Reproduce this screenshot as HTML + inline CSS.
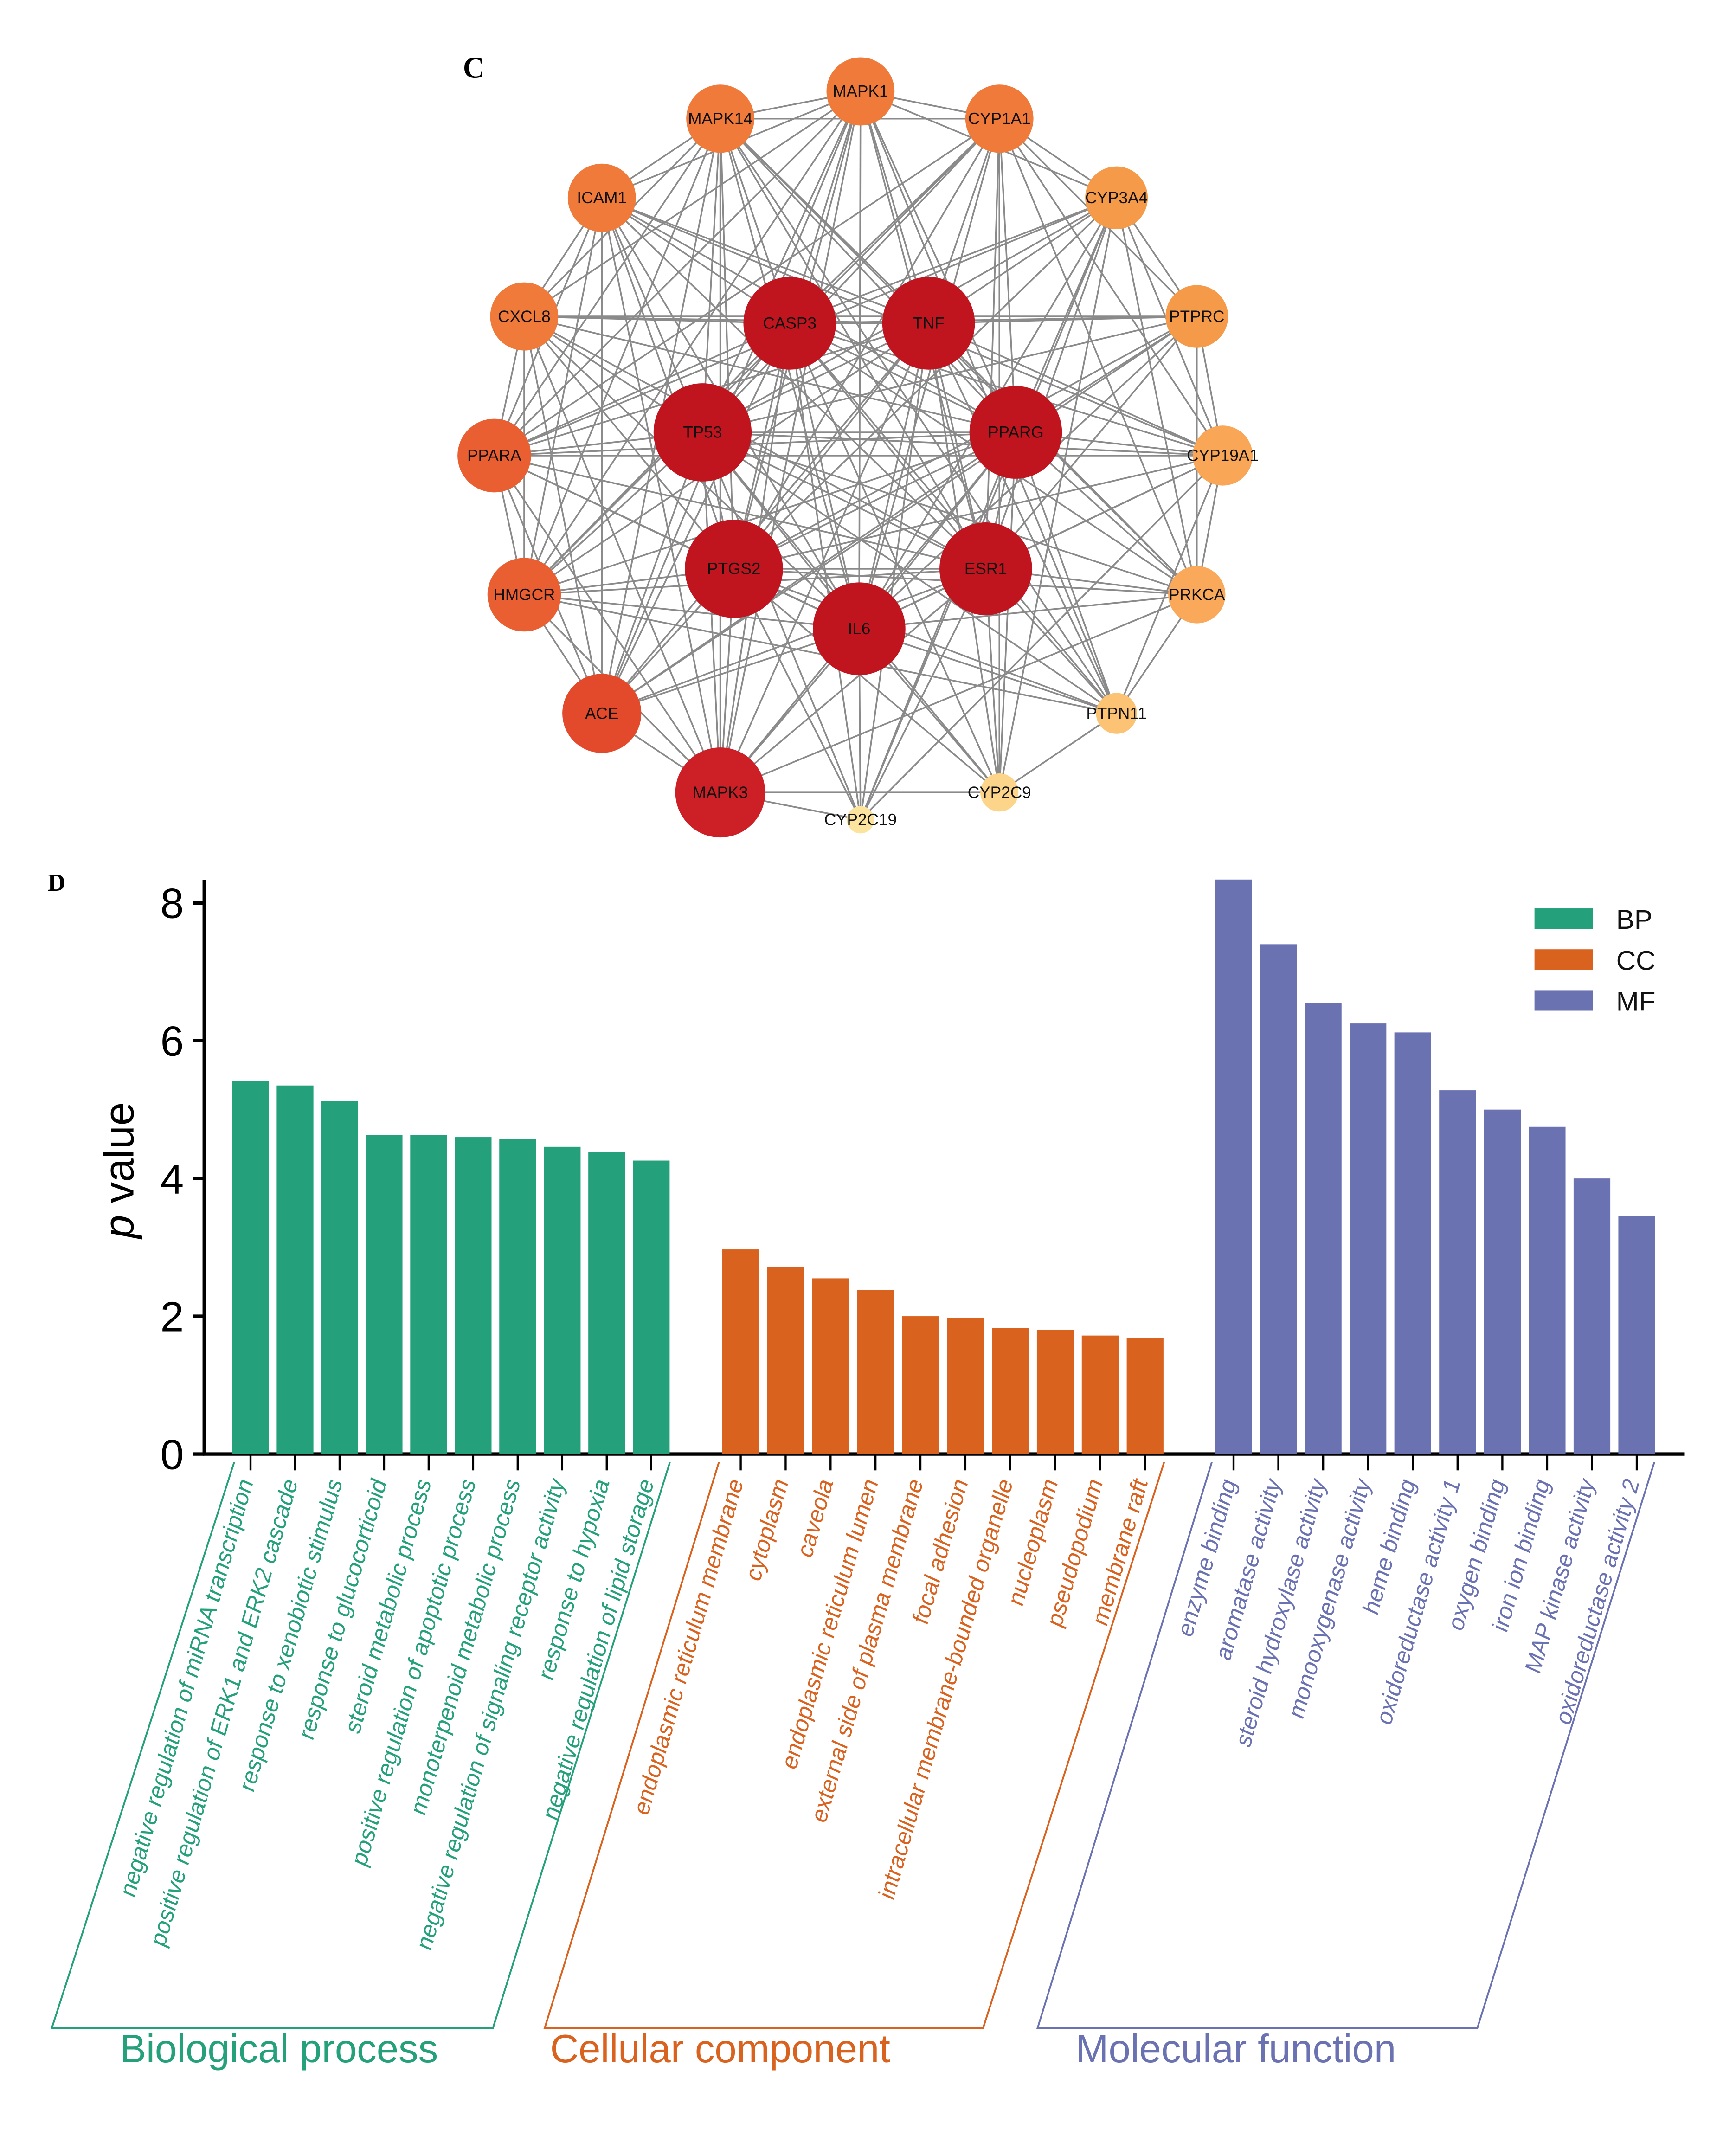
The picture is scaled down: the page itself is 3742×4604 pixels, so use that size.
<!DOCTYPE html>
<html><head><meta charset="utf-8">
<style>
html,body{margin:0;padding:0;background:#fff;}
svg{display:block;}
.s{font-family:"Liberation Sans",Arial,sans-serif;}
.serif{font-family:"Liberation Serif",serif;font-weight:bold;}
</style></head>
<body>
<svg id="fig" width="3742" height="4604" viewBox="0 0 1275 1566" preserveAspectRatio="none" xmlns="http://www.w3.org/2000/svg">
<text class="serif" x="340" y="57" font-size="22">C</text>
<text class="serif" x="35" y="653" font-size="18">D</text>
<g id="edges"></g>
<g id="nodes" class="s"></g>
<g id="chart" class="s"></g>
</svg>
<script>
// ---------- Network data ----------
const nodeNames = ["MAPK1","MAPK14","CYP1A1","ICAM1","CYP3A4","CXCL8","PTPRC","PPARA","CYP19A1","HMGCR","PRKCA","ACE","PTPN11","MAPK3","CYP2C9","CYP2C19","CASP3","TNF","TP53","PPARG","PTGS2","ESR1","IL6"];
const nodeX = [632,529,734,442,820,385,879,363,898,385,879,442,820,529,734,632,580,682,516,746,539,724,631];
const nodeY = [67,87,87,145,145,232,232,334,334,436,436,523,523,581,581,601,237,237,317,317,417,417,461];
const nodeR = [25,25,25,25,23,25,23,27,22,27,21,29,15,33,14,10,34,34,36,34,36,34,34];
const nodeColor = ["#f07a3a","#f07a3a","#f07a3a","#f07a3a","#f59a48","#f07a3a","#f59a48","#ea5f32","#f9a656","#ea5f32","#faa85a","#e34a2c","#fbc373","#cc1f26","#fcd48a","#fde49e","#c0141f","#c0141f","#c0141f","#c0141f","#c0141f","#c0141f","#c0141f"];
const extraEdges = [[0,1],[0,2],[0,3],[0,4],[0,5],[0,7],[0,9],[0,11],[0,13],[1,3],[1,5],[1,7],[1,9],[1,11],[1,13],[1,2],[2,4],[2,6],[2,8],[2,10],[2,7],[3,5],[3,7],[3,9],[3,11],[3,13],[4,6],[4,8],[4,10],[4,7],[5,7],[5,9],[5,11],[5,13],[5,6],[6,8],[6,10],[7,9],[7,11],[7,13],[7,8],[8,10],[8,12],[9,11],[9,13],[10,12],[11,13],[12,14],[13,15],[13,14],[2,14],[4,15],[0,12],[1,10],[3,8],[6,11],[9,12],[10,13],[4,14],[8,15],[2,9],[1,12]];
const inner = [16,17,18,19,20,21,22];

const NS="http://www.w3.org/2000/svg";
const eg=document.getElementById('edges');
function line(a,b){
  const l=document.createElementNS(NS,'line');
  l.setAttribute('x1',nodeX[a]);l.setAttribute('y1',nodeY[a]);
  l.setAttribute('x2',nodeX[b]);l.setAttribute('y2',nodeY[b]);
  l.setAttribute('stroke','#8a8a8a');l.setAttribute('stroke-width','1.2');
  
  
  eg.appendChild(l);
}
for(const a of inner){for(let b=0;b<nodeNames.length;b++){if(b!==a && (b<16||b>a))line(a,b);}}
for(const [a,b] of extraEdges)line(a,b);
const ng=document.getElementById('nodes');
nodeNames.forEach((n,i)=>{
  const c=document.createElementNS(NS,'circle');
  c.setAttribute('cx',nodeX[i]);c.setAttribute('cy',nodeY[i]);c.setAttribute('r',nodeR[i]);
  c.setAttribute('fill',nodeColor[i]);
  
  
  ng.appendChild(c);
  const t=document.createElementNS(NS,'text');
  t.setAttribute('x',nodeX[i]);t.setAttribute('y',nodeY[i]+4);
  t.setAttribute('text-anchor','middle');t.setAttribute('font-size','12');t.setAttribute('fill','#111');
  
  
  t.textContent=n;ng.appendChild(t);
});

// ---------- Bar chart data ----------
const bpCats=["negative regulation of miRNA transcription","positive regulation of ERK1 and ERK2 cascade","response to xenobiotic stimulus","response to glucocorticoid","steroid metabolic process","positive regulation of apoptotic process","monoterpenoid metabolic process","negative regulation of signaling receptor activity","response to hypoxia","negative regulation of lipid storage"];
const bpVals=[5.42,5.35,5.12,4.63,4.63,4.6,4.58,4.46,4.38,4.26];
const ccCats=["endoplasmic reticulum membrane","cytoplasm","caveola","endoplasmic reticulum lumen","external side of plasma membrane","focal adhesion","intracellular membrane-bounded organelle","nucleoplasm","pseudopodium","membrane raft"];
const ccVals=[2.97,2.72,2.55,2.38,2.0,1.98,1.83,1.8,1.72,1.68];
const mfCats=["enzyme binding","aromatase activity","steroid hydroxylase activity","monooxygenase activity","heme binding","oxidoreductase activity 1","oxygen binding","iron ion binding","MAP kinase activity","oxidoreductase activity 2"];
const mfVals=[8.34,7.4,6.55,6.25,6.12,5.28,5.0,4.75,4.0,3.45];
const yTicks=[0,2,4,6,8];

const ch=document.getElementById('chart');
const y0=1066, pxPerUnit=50.5;
const yScale=v=>y0-v*pxPerUnit;
function el(tag,attrs,name,txt){
  const e=document.createElementNS(NS,tag);
  for(const k in attrs)e.setAttribute(k,attrs[k]);
  
  
  if(txt!==undefined)e.textContent=txt;
  ch.appendChild(e);return e;
}
el('line',{x1:150,y1:645,x2:150,y2:1067,stroke:'#000','stroke-width':2.5},'y-axis');
el('line',{x1:149,y1:1066,x2:1237,y2:1066,stroke:'#000','stroke-width':2.5},'x-axis');
yTicks.forEach(t=>{
  el('line',{x1:142,y1:yScale(t),x2:150,y2:yScale(t),stroke:'#000','stroke-width':2.5},'y-tick');
  el('text',{x:135,y:yScale(t)+11,'text-anchor':'end','font-size':31,fill:'#000'},'y-tick-label',String(t));
});
const yt=el('text',{x:0,y:0,transform:'translate(98,858) rotate(-90)','text-anchor':'middle','font-size':31,fill:'#000'},'y-axis-title');
yt.innerHTML='<tspan font-style="italic">p</tspan> value';

const groups=[
  {cats:bpCats,vals:bpVals,x0:184,pitch:32.7,col:'#24a17b',name:'bp',title:'Biological process',br:[172,492,38,362],tx:88},
  {cats:ccCats,vals:ccVals,x0:544,pitch:33,col:'#d9621f',name:'cc',title:'Cellular component',br:[528,855,400,722],tx:404},
  {cats:mfCats,vals:mfVals,x0:906,pitch:32.9,col:'#6b72b2',name:'mf',title:'Molecular function',br:[890,1215,762,1085],tx:790}
];
groups.forEach(g=>{
  g.cats.forEach((c,i)=>{
    const cx=g.x0+i*g.pitch, v=g.vals[i];
    el('rect',{x:cx-13.5,y:yScale(v),width:27,height:v*pxPerUnit,fill:g.col},'bar-'+g.name);
    el('line',{x1:cx,y1:1066,x2:cx,y2:1078,stroke:'#000','stroke-width':1.5},'x-tick');
    el('text',{x:0,y:0,transform:`translate(${cx+2},1087) rotate(-74) skewX(-8)`,'text-anchor':'end','font-size':17,fill:g.col},'x-tick-label',c);
  });
  const b=g.br;
  el('polyline',{points:`${b[0]},1072 ${b[2]},1487 ${b[3]},1487 ${b[1]},1072`,fill:'none',stroke:g.col,'stroke-width':1.3},'group-bracket-'+g.name);
  el('text',{x:g.tx,y:1512,'font-size':29,fill:g.col},'group-title-'+g.name,g.title);
});
const legNames=['BP','CC','MF'], legCols=['#24a17b','#d9621f','#6b72b2'];
legNames.forEach((n,i)=>{
  el('rect',{x:1127,y:666+i*30,width:43,height:15,fill:legCols[i]},'legend-swatch-'+n.toLowerCase());
  el('text',{x:1187,y:681+i*30,'font-size':20,fill:'#111'},'legend-entry-'+n.toLowerCase(),n);
});
</script>
</body></html>
